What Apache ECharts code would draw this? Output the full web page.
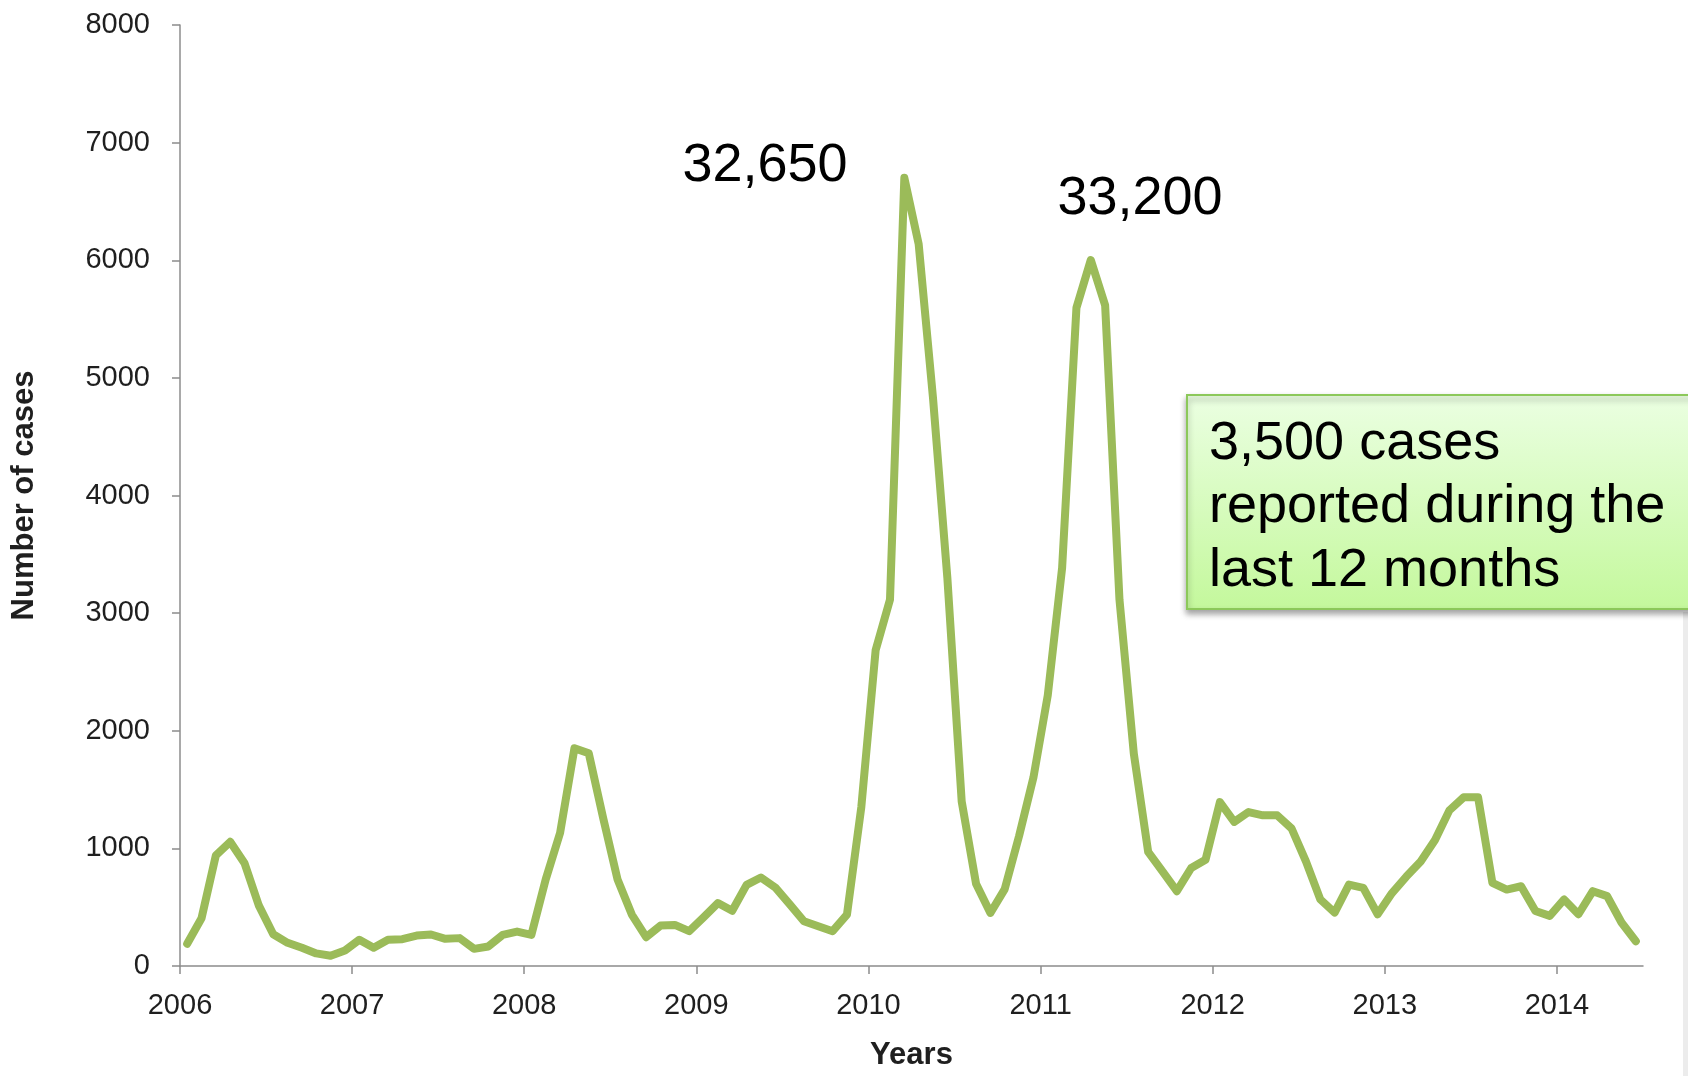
<!DOCTYPE html>
<html>
<head>
<meta charset="utf-8">
<script src="https://cdn.jsdelivr.net/npm/echarts@6/dist/echarts.min.js"></script>
<style>
html,body{margin:0;padding:0;background:#fff;}
#chart{width:1688px;height:1076px;}
</style>
</head>
<body>
<div id="chart"></div>
<script>
// ---- data (monthly reported cases, Jan 2006 - Jun 2014) ----
const startYear = 2006;
const yearTickLabels = ['2006','2007','2008','2009','2010','2011','2012','2013','2014'];
const cases2006 = [189, 406, 941, 1056, 873, 513, 270, 197, 155, 107, 87, 132];
const cases2007 = [223, 155, 223, 228, 259, 268, 231, 237, 146, 166, 265, 293];
const cases2008 = [265, 738, 1132, 1851, 1808, 1259, 738, 437, 245, 344, 349, 296];
const cases2009 = [414, 535, 470, 690, 752, 668, 527, 380, 338, 296, 437, 1350];
const cases2010 = [2685, 3114, 6701, 6137, 4828, 3300, 1399, 699, 451, 654, 1105, 1602];
const cases2011 = [2301, 3384, 5596, 6002, 5618, 3114, 1805, 970, 805, 636, 833, 903];
const cases2012 = [1393, 1225, 1309, 1281, 1281, 1169, 889, 566, 454, 692, 664, 440];
const cases2013 = [620, 760, 889, 1071, 1323, 1435, 1435, 706, 650, 678, 468, 426];
const cases2014 = [566, 440, 636, 594, 370, 210];
const yTicks = [0, 1000, 2000, 3000, 4000, 5000, 6000, 7000, 8000];
const peakNotes = ['32,650', '33,200'];
const boxNote = ['3,500 cases', 'reported during the', 'last 12 months'];

const allCases = [].concat(cases2006, cases2007, cases2008, cases2009, cases2010,
                           cases2011, cases2012, cases2013, cases2014);
const seriesData = allCases.map((v, i) => [i + 0.5, v]);
const yearTickValues = yearTickLabels.map((y) => (Number(y) - startYear) * 12);

const FONT = '"Liberation Sans", Arial, sans-serif';
const chart = echarts.init(document.getElementById('chart'), null, {renderer: 'canvas'});

chart.setOption({
  backgroundColor: '#ffffff',
  animation: false,
  grid: {left: 180, right: 45, top: 25, bottom: 100, containLabel: false},
  xAxis: {
    type: 'value',
    min: 0,
    max: allCases.length,
    interval: 12,
    name: 'Years',
    nameLocation: 'middle',
    nameGap: 74,
    nameTextStyle: {fontFamily: FONT, fontSize: 31, fontWeight: 'bold', color: '#1f1f1f'},
    axisLine: {show: true, lineStyle: {color: '#8c8c8c', width: 1.5}},
    axisTick: {show: true, length: 8, lineStyle: {color: '#8c8c8c', width: 1.5}, customValues: yearTickValues},
    axisLabel: {
      customValues: yearTickValues,
      margin: 25,
      fontFamily: FONT, fontSize: 29, color: '#1f1f1f',
      formatter: (v) => yearTickLabels[Math.round(v / 12)] || ''
    },
    splitLine: {show: false}
  },
  yAxis: {
    type: 'value',
    min: 0,
    max: 8000,
    interval: 1000,
    name: 'Number of cases',
    nameLocation: 'middle',
    nameGap: 140,
    nameTextStyle: {fontFamily: FONT, fontSize: 31, fontWeight: 'bold', color: '#1f1f1f'},
    axisLine: {show: true, lineStyle: {color: '#8c8c8c', width: 1.5}},
    axisTick: {show: true, length: 8, lineStyle: {color: '#8c8c8c', width: 1.5}},
    axisLabel: {margin: 30, fontFamily: FONT, fontSize: 29, color: '#1f1f1f',
      formatter: (v) => yTicks.indexOf(v) >= 0 ? String(v) : ''},
    splitLine: {show: false}
  },
  series: [{
    type: 'line',
    data: seriesData,
    showSymbol: false,
    symbol: 'none',
    lineStyle: {color: '#9bbb59', width: 8, join: 'round', cap: 'round'},
    silent: true
  }],
  graphic: [
    {type: 'text', x: 765, y: 166, style: {text: peakNotes[0], fontFamily: FONT, fontSize: 54, fill: '#000', textAlign: 'center', textVerticalAlign: 'middle'}},
    {type: 'text', x: 1140, y: 199, style: {text: peakNotes[1], fontFamily: FONT, fontSize: 54, fill: '#000', textAlign: 'center', textVerticalAlign: 'middle'}},
    {type: 'rect', x: 1683, y: 612, shape: {width: 5, height: 464}, style: {fill: '#ececec'}},
    {type: 'rect', x: 1187, y: 395, shape: {width: 560, height: 214},
      style: {
        fill: new echarts.graphic.LinearGradient(0, 0, 0, 1, [
          {offset: 0, color: '#ebffe2'},
          {offset: 1, color: '#c4f89c'}
        ]),
        stroke: '#8cc85a', lineWidth: 2,
        shadowBlur: 6, shadowOffsetX: 0, shadowOffsetY: 4, shadowColor: 'rgba(0,0,0,0.35)'
      }},
    {type: 'text', x: 1209, y: 412, style: {text: boxNote.join('\n'), fontFamily: FONT, fontSize: 54, lineHeight: 63.5, fill: '#000', textAlign: 'left', textVerticalAlign: 'top'}}
  ]
});
</script>
</body>
</html>
